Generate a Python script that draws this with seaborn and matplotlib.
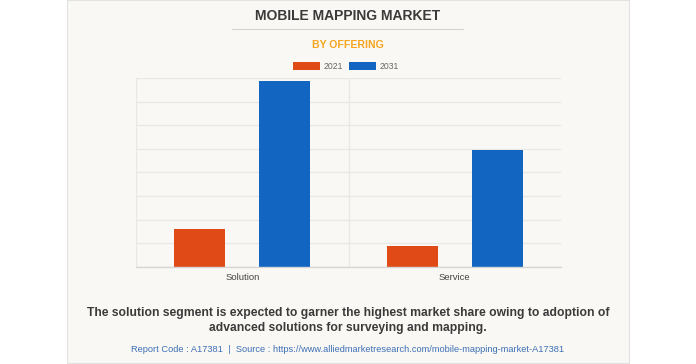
import numpy as np
import pandas as pd
import matplotlib
matplotlib.use("Agg")
import matplotlib.pyplot as plt
from matplotlib.patches import Rectangle, Patch
from matplotlib.lines import Line2D
import seaborn as sns

# Data (in grid units)
offerings = ["Solution", "Service"]
years = ["2021", "2031"]
values_2021 = [1.59, 0.88]
values_2031 = [7.87, 4.94]
colors = ["#e04a16", "#1265c0"]

df = pd.DataFrame({
    "offering": offerings * 2,
    "year": [years[0]] * 2 + [years[1]] * 2,
    "value": values_2021 + values_2031,
})

sns.set_theme(style="white")
plt.rcParams["font.family"] = ["Liberation Sans", "DejaVu Sans"]

W, H = 696, 364
fig = plt.figure(figsize=(W / 100, H / 100), dpi=100)
fig.patch.set_facecolor("white")

# card background
card = Rectangle((67 / W, 1 - 363 / H), (629 - 67) / W, 363 / H,
                 transform=fig.transFigure, facecolor="#f9f8f4",
                 edgecolor="#e2e2e0", linewidth=0.8, zorder=-5)
fig.patches.append(card)

# plot area
ax = fig.add_axes([136 / W, 1 - 267 / H, (561 - 136) / W, (267 - 78) / H])
ax.set_facecolor("none")

sns.barplot(data=df, x="offering", y="value", hue="year", palette=colors,
            order=offerings, hue_order=years, gap=0.4, width=0.8,
            saturation=1, edgecolor="none", ax=ax, legend=False)

ax.set_xlim(-0.5, 1.5)
ax.set_ylim(0, 8)
ax.set_yticks(np.arange(0, 9, 1))
ax.set_yticklabels([])
ax.yaxis.grid(True, color="#e9e8e4", linewidth=0.9)
ax.tick_params(axis="y", length=6, color="#e9e8e4", width=0.9)
ax.set_xticks([0, 1])
ax.set_xticklabels(offerings, fontsize=6.8, color="#444444")
ax.tick_params(axis="x", length=0, pad=4)
ax.set_xticks([-0.5, 0.5], minor=True)
ax.xaxis.grid(True, which="minor", color="#e9e8e4", linewidth=0.9)
ax.tick_params(axis="x", which="minor", length=5, color="#e9e8e4", width=0.9)
ax.set_xlabel("")
ax.set_ylabel("")
ax.set_axisbelow(True)
for side in ["top", "right", "left"]:
    ax.spines[side].set_visible(False)
ax.spines["bottom"].set_color("#d6d6d6")
ax.spines["bottom"].set_linewidth(1.0)

# titles
fig.text(0.5, 1 - 16 / H, "MOBILE MAPPING MARKET", ha="center", va="center",
         fontsize=10, fontweight="bold", color="#3a3a3a")
fig.add_artist(Line2D([232 / W, 463 / W], [1 - 28.7 / H] * 2,
                      color="#d4d4d4", linewidth=0.8))
fig.text(0.5, 1 - 45 / H, "BY OFFERING", ha="center", va="center",
         fontsize=7.6, fontweight="bold", color="#f7a51e")

handles = [Patch(facecolor=c, edgecolor="none", label=y) for c, y in zip(colors, years)]
fig.legend(handles=handles, loc="center", bbox_to_anchor=(0.497, 1 - 66.5 / H),
           ncol=2, frameon=False, fontsize=6.2, handlelength=3.1,
           handleheight=1.0, handletextpad=0.35, columnspacing=0.8,
           labelcolor="#666666")

# footer
fig.text(0.5, 1 - 320.5 / H,
         "The solution segment is expected to garner the highest market share owing to adoption of\n"
         "advanced solutions for surveying and mapping.",
         ha="center", va="center", fontsize=8.75, fontweight="bold",
         color="#3a3a3a", linespacing=1.3)
fig.text(0.5, 1 - 350 / H,
         "Report Code : A17381  |  Source : https://www.alliedmarketresearch.com/mobile-mapping-market-A17381",
         ha="center", va="center", fontsize=6.65, color="#3d6fb6")

fig.savefig("out.png", dpi=100, facecolor="white")
plt.close(fig)
